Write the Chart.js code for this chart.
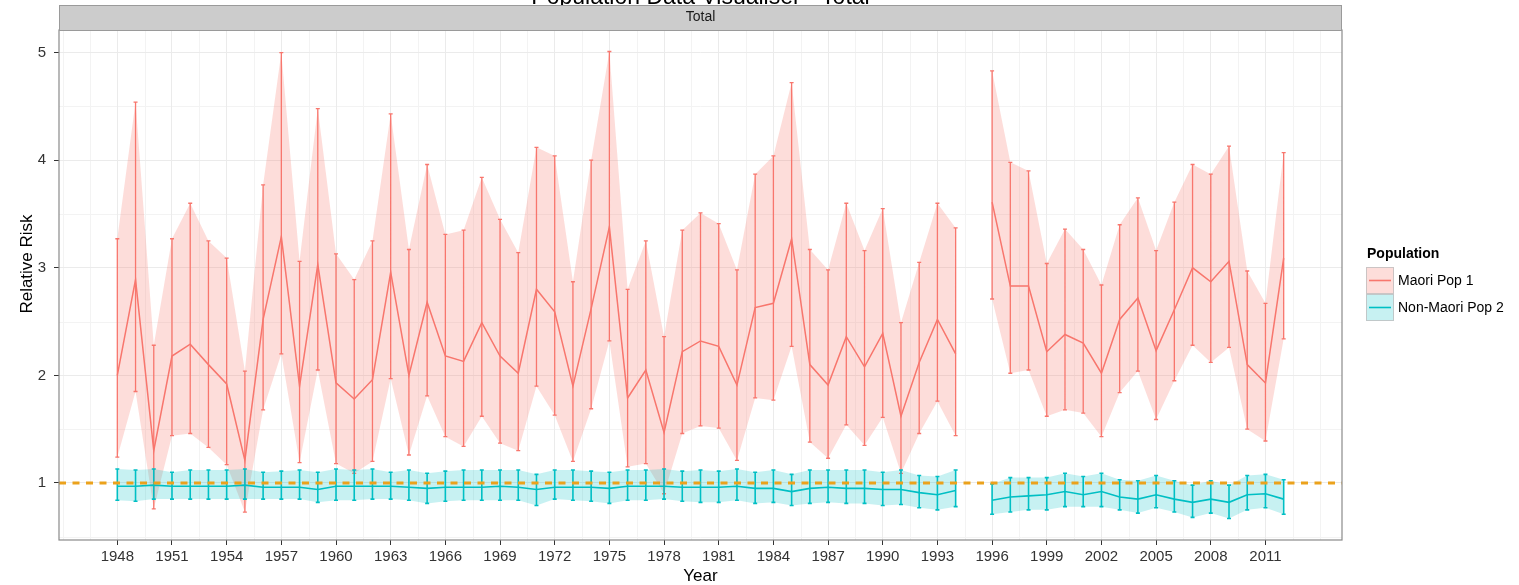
<!DOCTYPE html>
<html>
<head>
<meta charset="utf-8">
<script src="https://cdn.jsdelivr.net/npm/chart.js@4.4.1/dist/chart.umd.min.js"></script>
<style>
  html, body { margin: 0; padding: 0; background: #fff; }
  #wrap { width: 1519px; height: 585px; position: relative; }
</style>
</head>
<body>
<div id="wrap"><canvas id="rr-chart"></canvas></div>
<script>
// ── Data ───────────────────────────────────────────────────────────────────
const years = [1948,1949,1950,1951,1952,1953,1954,1955,1956,1957,1958,1959,1960,1961,1962,1963,
  1964,1965,1966,1967,1968,1969,1970,1971,1972,1973,1974,1975,1976,1977,1978,1979,1980,1981,
  1982,1983,1984,1985,1986,1987,1988,1989,1990,1991,1992,1993,1994,1995,1996,1997,1998,1999,
  2000,2001,2002,2003,2004,2005,2006,2007,2008,2009,2010,2011,2012];

// Maori Pop 1 — relative risk with lower / upper bounds (1995 missing)
const maoriRR = [2.00,2.89,1.30,2.18,2.29,2.10,1.92,1.21,2.52,3.29,1.90,3.03,1.93,1.78,1.96,2.96,
  2.00,2.68,2.18,2.13,2.49,2.18,2.02,2.80,2.59,1.90,2.62,3.38,1.79,2.05,1.47,2.22,2.32,2.27,
  1.91,2.63,2.67,3.27,2.10,1.91,2.36,2.08,2.39,1.62,2.12,2.52,2.20,null,3.61,2.83,2.83,2.22,
  2.38,2.30,2.02,2.52,2.72,2.23,2.61,3.00,2.87,3.06,2.10,1.93,3.09];
const maoriLo = [1.24,1.85,0.76,1.44,1.46,1.33,1.17,0.73,1.68,2.20,1.19,2.05,1.18,1.09,1.20,1.97,
  1.26,1.81,1.43,1.34,1.62,1.37,1.30,1.90,1.63,1.20,1.69,2.32,1.15,1.18,0.90,1.46,1.53,1.51,
  1.21,1.79,1.77,2.27,1.38,1.23,1.54,1.35,1.61,1.09,1.46,1.76,1.44,null,2.71,2.02,2.05,1.62,
  1.68,1.65,1.43,1.84,2.04,1.59,1.95,2.28,2.12,2.26,1.50,1.39,2.34];
const maoriHi = [3.27,4.54,2.28,3.27,3.60,3.25,3.09,2.04,3.77,5.00,3.06,4.48,3.13,2.89,3.25,4.43,
  3.17,3.96,3.31,3.35,3.84,3.45,3.14,4.12,4.04,2.87,4.00,5.01,2.80,3.25,2.36,3.35,3.51,3.41,
  2.98,3.87,4.04,4.72,3.17,2.98,3.60,3.16,3.55,2.49,3.05,3.60,3.37,null,4.83,3.98,3.90,3.04,
  3.36,3.17,2.84,3.40,3.65,3.16,3.61,3.96,3.87,4.13,2.97,2.67,4.07];

// Non-Maori Pop 2
const nonMaoriRR = [0.97,0.97,0.98,0.97,0.97,0.97,0.97,0.98,0.96,0.96,0.96,0.94,0.97,0.97,0.97,0.97,
  0.96,0.95,0.96,0.96,0.96,0.97,0.96,0.94,0.96,0.96,0.96,0.95,0.97,0.97,0.97,0.96,0.96,0.96,
  0.97,0.95,0.95,0.92,0.95,0.96,0.95,0.95,0.94,0.94,0.91,0.89,0.93,null,0.84,0.87,0.88,0.89,
  0.92,0.89,0.92,0.87,0.85,0.89,0.85,0.82,0.85,0.82,0.89,0.90,0.85];
const nonMaoriLo = [0.84,0.83,0.85,0.85,0.85,0.85,0.85,0.85,0.85,0.85,0.85,0.82,0.84,0.84,0.85,0.85,
  0.84,0.81,0.83,0.84,0.84,0.84,0.84,0.79,0.85,0.84,0.83,0.81,0.84,0.84,0.85,0.83,0.82,0.82,
  0.84,0.81,0.82,0.79,0.81,0.82,0.81,0.81,0.79,0.80,0.77,0.75,0.78,null,0.71,0.73,0.75,0.75,
  0.78,0.78,0.78,0.75,0.72,0.77,0.73,0.68,0.72,0.67,0.75,0.77,0.71];
const nonMaoriHi = [1.13,1.12,1.13,1.10,1.12,1.12,1.12,1.13,1.10,1.11,1.12,1.10,1.13,1.12,1.13,1.10,
  1.12,1.09,1.11,1.12,1.12,1.12,1.12,1.08,1.12,1.12,1.11,1.10,1.12,1.12,1.13,1.11,1.12,1.11,
  1.13,1.10,1.12,1.08,1.12,1.12,1.12,1.12,1.10,1.12,1.07,1.06,1.12,null,0.99,1.05,1.05,1.05,
  1.09,1.06,1.09,1.03,1.02,1.07,1.02,0.98,1.02,0.98,1.07,1.08,1.03];

const xTicks = [1948,1951,1954,1957,1960,1963,1966,1969,1972,1975,1978,1981,1984,1987,1990,
  1993,1996,1999,2002,2005,2008,2011];
const yTicks = [1, 2, 3, 4, 5];
const yMinor = [0.5, 1.5, 2.5, 3.5, 4.5];
const refLevel = 1;

const X_MIN = 1944.8, X_MAX = 2015.2;
const Y_MIN = 0.47,   Y_MAX = 5.21;

const RED  = '#F8766D';
const CYAN = '#00BFC4';
const FONT = "'Liberation Sans', Arial, sans-serif";

const pts = arr => years.map((yr, i) => ({ x: yr, y: arr[i] }));

// ── Plugins ────────────────────────────────────────────────────────────────
// minor grid (ggplot theme_bw look), drawn under everything
const minorGrid = {
  id: 'minorGrid',
  beforeDraw(chart) {
    const { ctx, chartArea: a, scales: { x, y } } = chart;
    ctx.save();
    ctx.strokeStyle = '#f3f3f3';
    ctx.lineWidth = 1;
    ctx.beginPath();
    for (let v = 1945; v <= X_MAX; v += 1.5) {
      if (xTicks.includes(v)) continue;
      const px = Math.round(x.getPixelForValue(v)) + 0.5;
      ctx.moveTo(px, a.top); ctx.lineTo(px, a.bottom);
    }
    yMinor.forEach(v => {
      if (v < Y_MIN) return;
      const py = Math.round(y.getPixelForValue(v)) + 0.5;
      ctx.moveTo(a.left, py); ctx.lineTo(a.right, py);
    });
    ctx.stroke();
    ctx.restore();
  }
};

// vertical error bars with small caps, drawn right after their line dataset
const errorBars = {
  id: 'errorBars',
  afterDatasetDraw(chart, args) {
    const ds = chart.data.datasets[args.index];
    if (!ds.errLo) return;
    const { ctx, scales: { x, y } } = chart;
    ctx.save();
    ctx.strokeStyle = ds.borderColor;
    ctx.lineWidth = ds.errWidth;
    ctx.beginPath();
    ds.data.forEach((p, i) => {
      const lo = ds.errLo[i], hi = ds.errHi[i];
      if (lo == null || hi == null) return;
      const px = x.getPixelForValue(p.x);
      const y0 = y.getPixelForValue(lo), y1 = y.getPixelForValue(hi);
      ctx.moveTo(px, y0); ctx.lineTo(px, y1);
      ctx.moveTo(px - 2, y0); ctx.lineTo(px + 2, y0);
      ctx.moveTo(px - 2, y1); ctx.lineTo(px + 2, y1);
    });
    ctx.stroke();
    ctx.restore();
  }
};

// panel border, facet strip, plot title, y-axis title, legend
const decorations = {
  id: 'decorations',
  afterDraw(chart) {
    const { ctx, chartArea: a } = chart;
    ctx.save();
    // panel border
    ctx.strokeStyle = '#8a8a8a';
    ctx.lineWidth = 1.2;
    ctx.strokeRect(a.left, a.top, a.right - a.left, a.bottom - a.top);

    // title (mostly cut off by the top edge, as in the reference)
    ctx.fillStyle = '#000';
    ctx.font = `23px ${FONT}`;
    ctx.textAlign = 'center';
    ctx.textBaseline = 'alphabetic';
    ctx.fillText('Population Data Visualiser - Total', (a.left + a.right) / 2, 4);

    // facet strip
    ctx.fillStyle = '#cccccc';
    ctx.fillRect(a.left, 5, a.right - a.left, a.top - 5);
    ctx.strokeStyle = '#9a9a9a';
    ctx.lineWidth = 1;
    ctx.strokeRect(a.left + 0.5, 5.5, a.right - a.left - 1, a.top - 5);
    ctx.fillStyle = '#1a1a1a';
    ctx.font = `14px ${FONT}`;
    ctx.textBaseline = 'middle';
    ctx.fillText('Total', (a.left + a.right) / 2, 17.5);

    // y-axis title
    ctx.save();
    ctx.translate(27, 264);
    ctx.rotate(-Math.PI / 2);
    ctx.fillStyle = '#000';
    ctx.font = `17px ${FONT}`;
    ctx.fillText('Relative Risk', 0, 0);
    ctx.restore();

    // legend
    const lx = 1366;
    ctx.textAlign = 'left';
    ctx.fillStyle = '#000';
    ctx.font = `bold 14px ${FONT}`;
    ctx.fillText('Population', lx + 1, 254);
    const keys = [
      { label: 'Maori Pop 1',     color: RED,  fill: 'rgba(248,118,109,0.25)', y: 267 },
      { label: 'Non-Maori Pop 2', color: CYAN, fill: 'rgba(0,191,196,0.22)',   y: 294 },
    ];
    keys.forEach(k => {
      ctx.fillStyle = '#fff';
      ctx.fillRect(lx, k.y, 28, 27);
      ctx.fillStyle = k.fill;
      ctx.fillRect(lx, k.y, 28, 27);
      ctx.strokeStyle = 'rgba(190,190,190,0.8)';
      ctx.lineWidth = 1;
      ctx.strokeRect(lx + 0.5, k.y + 0.5, 27, 26);
      ctx.strokeStyle = k.color;
      ctx.lineWidth = 1.6;
      ctx.beginPath();
      ctx.moveTo(lx + 3, k.y + 13.5); ctx.lineTo(lx + 25, k.y + 13.5);
      ctx.stroke();
      ctx.fillStyle = '#000';
      ctx.font = `14px ${FONT}`;
      ctx.fillText(k.label, lx + 32, k.y + 14);
    });
    ctx.restore();
  }
};

// ── Chart ──────────────────────────────────────────────────────────────────
const ctx = document.getElementById('rr-chart').getContext('2d');
new Chart(ctx, {
  type: 'line',
  data: {
    datasets: [
      // ribbons
      { data: pts(maoriHi), fill: '+1', backgroundColor: 'rgba(248,118,109,0.25)',
        borderWidth: 0, pointRadius: 0, order: 5 },
      { data: pts(maoriLo), fill: false, borderWidth: 0, pointRadius: 0, order: 5 },
      { data: pts(nonMaoriHi), fill: '+1', backgroundColor: 'rgba(0,191,196,0.22)',
        borderWidth: 0, pointRadius: 0, order: 4 },
      { data: pts(nonMaoriLo), fill: false, borderWidth: 0, pointRadius: 0, order: 4 },
      // lines (+ error bars via plugin)
      { label: 'Maori Pop 1', data: pts(maoriRR), borderColor: RED, borderWidth: 1.5,
        pointRadius: 0, fill: false, order: 3, errLo: maoriLo, errHi: maoriHi, errWidth: 1.3 },
      { label: 'Non-Maori Pop 2', data: pts(nonMaoriRR), borderColor: CYAN, borderWidth: 1.6,
        pointRadius: 0, fill: false, order: 2, errLo: nonMaoriLo, errHi: nonMaoriHi, errWidth: 1.6 },
      // reference level
      { data: [{ x: X_MIN, y: refLevel }, { x: X_MAX, y: refLevel }], borderColor: '#EBA21C',
        borderWidth: 3, borderDash: [7, 6.5], pointRadius: 0, fill: false, order: 1 },
    ],
  },
  options: {
    responsive: true, maintainAspectRatio: false, animation: false, events: [],
    layout: { padding: { top: 30, right: 177, left: 0, bottom: 0 } },
    plugins: { legend: { display: false }, tooltip: { enabled: false }, title: { display: false } },
    scales: {
      x: {
        type: 'linear', min: X_MIN, max: X_MAX,
        afterBuildTicks: s => { s.ticks = xTicks.map(v => ({ value: v })); },
        afterFit: s => { s.height = 45; },
        ticks: { autoSkip: false, maxRotation: 0, padding: 3, color: '#333',
                 font: { family: FONT, size: 15 }, callback: v => String(v) },
        grid: { color: '#ebebeb', tickColor: '#333', tickLength: 5 },
        border: { display: false },
        title: { display: true, text: 'Year', color: '#000',
                 font: { family: FONT, size: 17, lineHeight: 1 }, padding: { top: 0, bottom: 0.5 } },
      },
      y: {
        min: Y_MIN, max: Y_MAX,
        afterBuildTicks: s => { s.ticks = yTicks.map(v => ({ value: v })); },
        afterFit: s => { s.width = 59; },
        ticks: { padding: 8, color: '#333', font: { family: FONT, size: 15 },
                 callback: v => String(v) },
        grid: { color: '#ebebeb', tickColor: '#333', tickLength: 5 },
        border: { display: false },
        title: { display: false },
      },
    },
  },
  plugins: [minorGrid, errorBars, decorations],
});
</script>
</body>
</html>
